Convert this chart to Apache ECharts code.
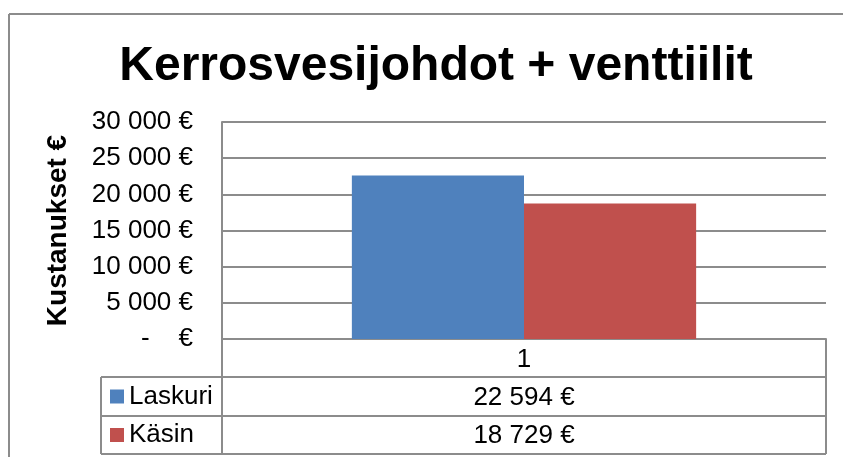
<!DOCTYPE html>
<html>
<head>
<meta charset="utf-8">
<script src="https://cdn.jsdelivr.net/npm/echarts@6/dist/echarts.min.js"></script>
<style>
  html, body { margin: 0; padding: 0; background: #fff; }
  #chart { width: 843px; height: 457px; }
</style>
</head>
<body>
<div id="chart"></div>
<script>
// data
var titleText = "Kerrosvesijohdot + venttiilit";
var yAxisName = "Kustanukset €";
var categories = ["1"];
var seriesNames = ["Laskuri", "Käsin"];
var laskuriValues = [22594];
var kasinValues = [18729];
var seriesColors = ["#4F81BD", "#C0504D"];
var yMin = 0, yMax = 30000, yStep = 5000;

var FONT = "'Liberation Sans', Arial, sans-serif";
var LINE = "#8c8c8c";
var FS = 26;

function euro(v) {
  if (v === 0) return "-    €";
  return String(Math.round(v)).replace(/\B(?=(\d{3})+(?!\d))/g, " ") + " €";
}

// table geometry (px)
var gridL = 222, gridR = 826, axisY = 339;
var tableL = 101, rowY = [339, 377, 416, 454];
var colMid = (gridL + gridR) / 2;

var seriesValues = [laskuriValues, kasinValues];

var graphics = [
  // outer chart border (left + top; the rest is cut off)
  { type: "line", shape: { x1: 9, y1: 14, x2: 843, y2: 14 }, style: { stroke: LINE, lineWidth: 2 } },
  { type: "line", shape: { x1: 9, y1: 14, x2: 9, y2: 457 }, style: { stroke: LINE, lineWidth: 2 } },
  // table lines
  { type: "line", shape: { x1: gridL, y1: 122, x2: gridL, y2: rowY[3] }, style: { stroke: LINE, lineWidth: 2 } },
  { type: "line", shape: { x1: gridR, y1: axisY, x2: gridR, y2: rowY[3] }, style: { stroke: LINE, lineWidth: 2 } },
  { type: "line", shape: { x1: tableL, y1: rowY[1], x2: tableL, y2: rowY[3] }, style: { stroke: LINE, lineWidth: 2 } }
];
for (var r = 1; r <= 3; r++) {
  graphics.push({ type: "line", shape: { x1: tableL, y1: rowY[r], x2: gridR, y2: rowY[r] },
    style: { stroke: LINE, lineWidth: 2 } });
}
// table values
seriesValues.forEach(function (vals, i) {
  graphics.push({
    type: "text", x: colMid, y: (rowY[i + 1] + rowY[i + 2]) / 2 + 1,
    style: { text: euro(vals[0]), fill: "#000", font: FS + "px " + FONT,
      textAlign: "center", textVerticalAlign: "middle" }
  });
});

// one legend per table row
var legends = seriesNames.map(function (n, i) {
  return {
    left: 110, top: (rowY[i + 1] + rowY[i + 2]) / 2 - 13,
    itemWidth: 14, itemHeight: 14, itemGap: 5, icon: "rect",
    padding: 0,
    data: [n],
    textStyle: { fontFamily: FONT, fontSize: FS, lineHeight: 26, color: "#000" }
  };
});

var chart = echarts.init(document.getElementById("chart"));
chart.setOption({
  backgroundColor: "#fff",
  animation: false,
  title: {
    text: titleText, left: 431, top: 38, textAlign: "center",
    textStyle: { fontFamily: FONT, fontSize: 48, fontWeight: "bold", color: "#000" }
  },
  legend: legends,
  grid: { left: gridL, right: 843 - gridR, top: 122, bottom: 457 - axisY },
  xAxis: {
    type: "category", data: categories,
    axisLine: { show: true, lineStyle: { color: LINE, width: 2 } },
    axisTick: { show: false },
    axisLabel: { margin: 8, fontFamily: FONT, fontSize: FS, color: "#000" }
  },
  yAxis: {
    type: "value", min: yMin, max: yMax, interval: yStep,
    name: yAxisName, nameLocation: "middle", nameGap: 150,
    nameTextStyle: { fontFamily: FONT, fontSize: 28, fontWeight: "bold", color: "#000" },
    axisLine: { show: true, lineStyle: { color: LINE, width: 2 } },
    axisTick: { show: false },
    splitLine: { lineStyle: { color: LINE, width: 2 } },
    axisLabel: { margin: 29, fontFamily: FONT, fontSize: FS, color: "#000", formatter: euro }
  },
  series: seriesNames.map(function (n, i) {
    return {
      name: n, type: "bar", data: seriesValues[i],
      itemStyle: { color: seriesColors[i] },
      barGap: "0%", barCategoryGap: "43%"
    };
  }),
  graphic: graphics
});
</script>
</body>
</html>
